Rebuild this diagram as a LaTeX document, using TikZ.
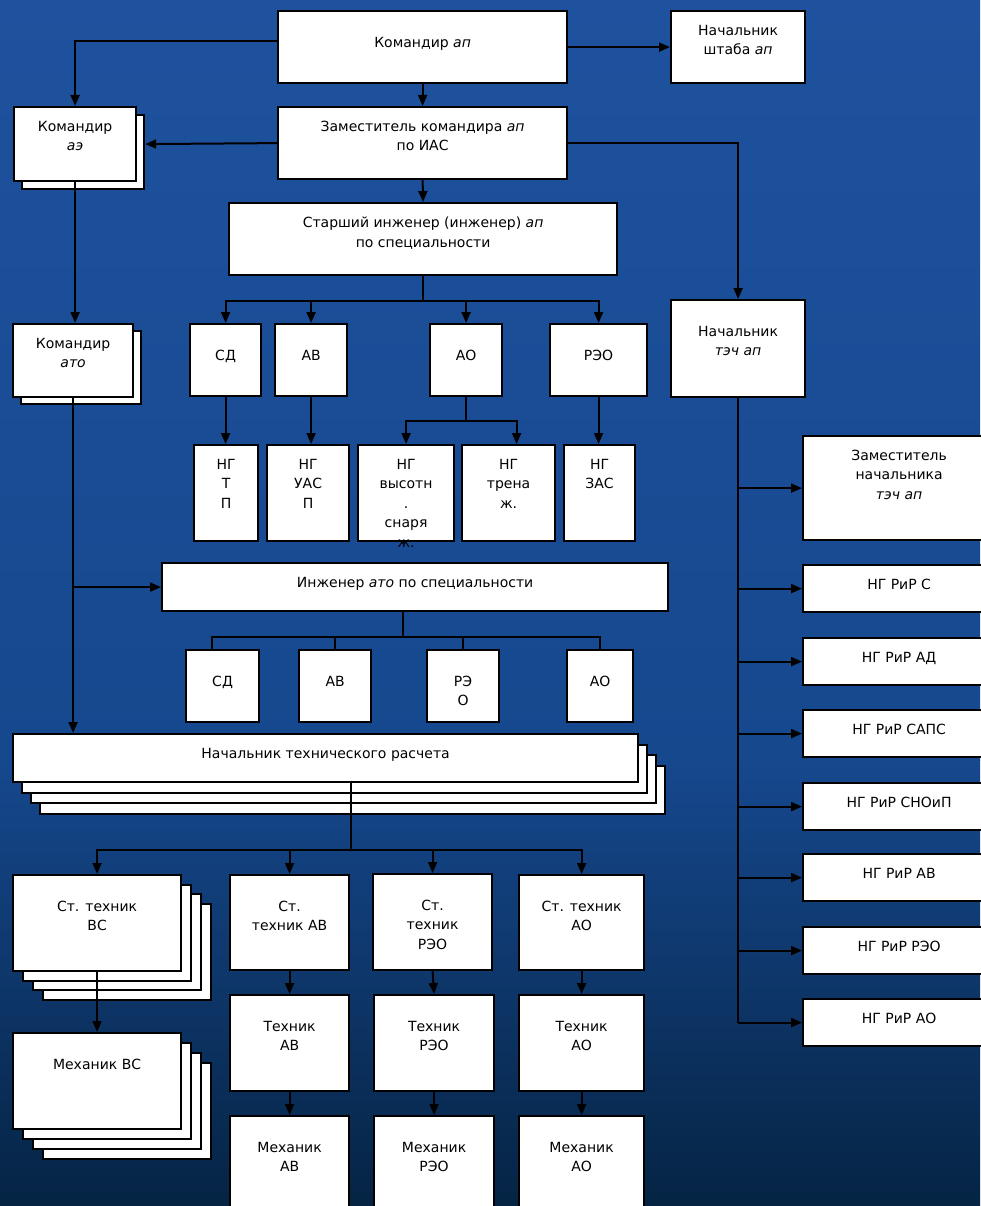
\documentclass[tikz,border=0pt]{standalone}
\usepackage{fontspec}
\setmainfont{DejaVu Sans}
\usetikzlibrary{arrows.meta,shadows}

\definecolor{bgtop}{RGB}{30,82,158}
\definecolor{bgmid}{RGB}{22,72,142}
\definecolor{bgbot}{RGB}{5,36,68}

\newcommand{\boxfont}{\fontsize{14}{19.5}\selectfont}

\begin{document}
\begin{tikzpicture}[x=1pt,y=-1pt,>={Triangle[length=11pt,width=9pt]},line width=2pt,
  main node/.style={draw,fill=white,line width=2.2pt,anchor=north west,inner sep=0pt},
  low text/.style={anchor=north,yshift=-26pt,inner sep=0pt,align=center,font=\boxfont},
  high text/.style={anchor=north,yshift=-14pt,inner sep=0pt,align=center,font=\boxfont}]

                \useasboundingbox (0,0) rectangle (980,1206);
                \shade[top color=bgtop,bottom color=bgmid] (0,0) rectangle (980,760);
                \shade[top color=bgmid,bottom color=bgbot] (0,760) rectangle (980,1206);

                \node[main node,minimum width=289pt,minimum height=72pt,label={[low text]north:Командир \textit{ап}}] (1) at (277,10) {};
                \node[main node,minimum width=134pt,minimum height=72pt,label={[high text]north:Начальник\\штаба \textit{ап}}] (2) at (670,10) {};
                \node[main node,minimum width=289pt,minimum height=72pt,label={[high text]north:Заместитель командира \textit{ап}\\по ИАС}] (3) at (277,106) {};
                \node[main node,minimum width=122pt,minimum height=74pt,copy shadow={shadow xshift=8pt,shadow yshift=-8pt},label={[high text]north:Командир\\\textit{аэ}}] (4) at (13,106) {};
                \node[main node,minimum width=388pt,minimum height=72pt,label={[high text]north:Старший инженер (инженер) \textit{ап}\\по специальности}] (5) at (228,202) {};
                \node[main node,minimum width=120pt,minimum height=73pt,copy shadow={shadow xshift=8pt,shadow yshift=-7pt},label={[high text]north:Командир\\\textit{ато}}] (6) at (12,323) {};
                \node[main node,minimum width=134pt,minimum height=97pt,label={[low text]north:Начальник\\\textit{тэч ап}}] (7) at (670,299) {};

                \node[main node,minimum width=71pt,minimum height=72pt,label={[low text]north:СД}] (8) at (189,323) {};
                \node[main node,minimum width=72pt,minimum height=72pt,label={[low text]north:АВ}] (9) at (274,323) {};
                \node[main node,minimum width=72pt,minimum height=72pt,label={[low text]north:АО}] (10) at (429,323) {};
                \node[main node,minimum width=97pt,minimum height=72pt,label={[low text]north:РЭО}] (11) at (549,323) {};

                \node[main node,minimum width=64pt,minimum height=96pt,label={[high text]north:НГ\\Т\\П}] (12) at (193,444) {};
                \node[main node,minimum width=82pt,minimum height=96pt,label={[high text]north:НГ\\УАС\\П}] (13) at (266,444) {};
                \node[main node,minimum width=96pt,minimum height=96pt,label={[high text]north:НГ\\высотн\\.\\снаря\\ж.}] (14) at (357,444) {};
                \node[main node,minimum width=93pt,minimum height=96pt,label={[high text]north:НГ\\трена\\ж.}] (15) at (461,444) {};
                \node[main node,minimum width=71pt,minimum height=96pt,label={[high text]north:НГ\\ЗАС}] (16) at (563,444) {};

                \node[main node,minimum width=506pt,minimum height=48pt,label={[high text]north:Инженер \textit{ато} по специальности}] (17) at (161,562) {};
                \node[main node,minimum width=73pt,minimum height=72pt,label={[low text]north:СД}] (18) at (185,649) {};
                \node[main node,minimum width=72pt,minimum height=72pt,label={[low text]north:АВ}] (19) at (298,649) {};
                \node[main node,minimum width=72pt,minimum height=72pt,label={[low text]north:РЭ\\О}] (20) at (426,649) {};
                \node[main node,minimum width=66pt,minimum height=72pt,label={[low text]north:АО}] (21) at (566,649) {};

                \node[main node,minimum width=625pt,minimum height=48pt,copy shadow={shadow xshift=27pt,shadow yshift=-32pt},copy shadow={shadow xshift=18pt,shadow yshift=-21pt},copy shadow={shadow xshift=9pt,shadow yshift=-11pt},label={[high text]north:Начальник технического расчета}] (22) at (12,733) {};

                \node[main node,minimum width=168pt,minimum height=96pt,copy shadow={shadow xshift=30pt,shadow yshift=-29pt},copy shadow={shadow xshift=20pt,shadow yshift=-19pt},copy shadow={shadow xshift=10pt,shadow yshift=-10pt},label={[low text]north:Ст. техник\\ВС}] (23) at (12,874) {};
                \node[main node,minimum width=168pt,minimum height=96pt,copy shadow={shadow xshift=30pt,shadow yshift=-30pt},copy shadow={shadow xshift=20pt,shadow yshift=-20pt},copy shadow={shadow xshift=10pt,shadow yshift=-10pt},label={[low text]north:Механик ВС}] (24) at (12,1032) {};
                \node[main node,minimum width=119pt,minimum height=95pt,label={[low text]north:Ст.\\техник АВ}] (25) at (229,874) {};
                \node[main node,minimum width=119pt,minimum height=96pt,label={[low text]north:Ст.\\техник\\РЭО}] (26) at (372,873) {};
                \node[main node,minimum width=125pt,minimum height=95pt,label={[low text]north:Ст. техник\\АО}] (27) at (518,874) {};
                \node[main node,minimum width=119pt,minimum height=96pt,label={[low text]north:Техник\\АВ}] (28) at (229,994) {};
                \node[main node,minimum width=120pt,minimum height=96pt,label={[low text]north:Техник\\РЭО}] (29) at (373,994) {};
                \node[main node,minimum width=125pt,minimum height=96pt,label={[low text]north:Техник\\АО}] (30) at (518,994) {};
                \node[main node,minimum width=119pt,minimum height=100pt,label={[low text]north:Механик\\АВ}] (31) at (229,1115) {};
                \node[main node,minimum width=120pt,minimum height=100pt,label={[low text]north:Механик\\РЭО}] (32) at (373,1115) {};
                \node[main node,minimum width=125pt,minimum height=100pt,label={[low text]north:Механик\\АО}] (33) at (518,1115) {};

                \node[main node,minimum width=192pt,minimum height=104pt,label={[high text]north:Заместитель\\начальника\\\textit{тэч ап}}] (34) at (802,435) {};
                \node[main node,minimum width=192pt,minimum height=47pt,label={[high text]north:НГ РиР С}] (35) at (802,564) {};
                \node[main node,minimum width=192pt,minimum height=47pt,label={[high text]north:НГ РиР АД}] (36) at (802,637) {};
                \node[main node,minimum width=192pt,minimum height=47pt,label={[high text]north:НГ РиР САПС}] (37) at (802,709) {};
                \node[main node,minimum width=192pt,minimum height=47pt,label={[high text]north:НГ РиР СНОиП}] (38) at (802,782) {};
                \node[main node,minimum width=192pt,minimum height=47pt,label={[high text]north:НГ РиР АВ}] (39) at (802,853) {};
                \node[main node,minimum width=192pt,minimum height=47pt,label={[high text]north:НГ РиР РЭО}] (40) at (802,926) {};
                \node[main node,minimum width=192pt,minimum height=47pt,label={[high text]north:НГ РиР АО}] (41) at (802,998) {};

                \draw[->] (1.east) -- (2.west);
                \draw[->] ([yshift=6pt]1.west) -| (4.north);
                \draw[->] (1.south) -- (3.north);
                \draw[->] (3.west) -- ([xshift=8pt]4.east);
                \draw[->] (3.east) -| (7.north);
                \draw[->] (3.south) -- (5.north);
                \draw[->] (4.south) -- (4.south |- 6.north);
                \draw[->] (5.south) -- ++(0,25) -| (8.north);
                \draw[->] (5.south) -- ++(0,25) -| (9.north);
                \draw[->] (5.south) -- ++(0,25) -| (10.north);
                \draw[->] (5.south) -- ++(0,25) -| (11.north);
                \draw[->] (8.south) -- (8.south |- 12.north);
                \draw[->] (9.south) -- (9.south |- 13.north);
                \draw[->] (10.south) -- ++(0,24) -| (14.north);
                \draw[->] (10.south) -- ++(0,24) -| ([xshift=8pt]15.north);
                \draw[->] (11.south) -- (11.south |- 16.north);
                \draw[->] (6.south) -- (6.south |- 22.north);
                \draw[->] (6.south |- 17.west) -- (17.west);
                \draw ([xshift=-12pt]17.south) -- ++(0,25) -| ([xshift=-11pt]18.north);
                \draw ([xshift=-12pt]17.south) -- ++(0,25) -| (19.north);
                \draw ([xshift=-12pt]17.south) -- ++(0,25) -| (20.north);
                \draw ([xshift=-12pt]17.south) -- ++(0,25) -| (21.north);
                \draw[->] ([xshift=25pt]22.south) -- ++(0,67) -| (23.north);
                \draw[->] ([xshift=25pt]22.south) -- ++(0,67) -| (25.north);
                \draw[->] ([xshift=25pt]22.south) -- ++(0,67) -| (26.north);
                \draw[->] ([xshift=25pt]22.south) -- ++(0,67) -| (27.north);
                \draw[->] (23.south) -- (23.south |- 24.north);
                \draw[->] (25.south) -- (28.north);
                \draw[->] (26.south) -- (29.north);
                \draw[->] (27.south) -- (30.north);
                \draw[->] (28.south) -- (31.north);
                \draw[->] (29.south) -- (32.north);
                \draw[->] (30.south) -- (33.north);
                \draw (7.south) -- (7.south |- 41.west);
                \draw[->] (7.south |- 34.west) -- (34.west);
                \draw[->] (7.south |- 35.west) -- (35.west);
                \draw[->] (7.south |- 36.west) -- (36.west);
                \draw[->] (7.south |- 37.west) -- (37.west);
                \draw[->] (7.south |- 38.west) -- (38.west);
                \draw[->] (7.south |- 39.west) -- (39.west);
                \draw[->] (7.south |- 40.west) -- (40.west);
                \draw[->] (7.south |- 41.west) -- (41.west);

            \end{tikzpicture}
\end{document}
